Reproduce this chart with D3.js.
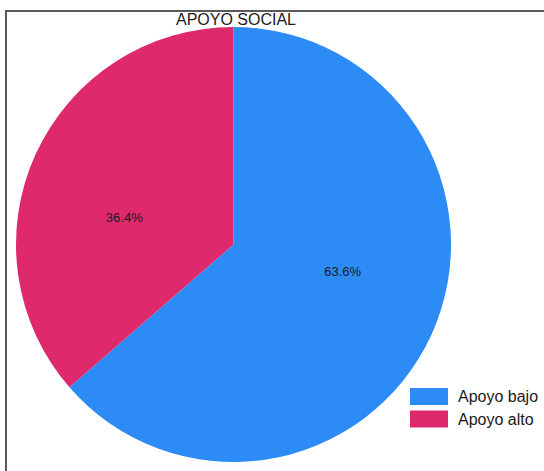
<!DOCTYPE html>
<html>
<head>
<meta charset="utf-8">
<script src="https://cdn.jsdelivr.net/npm/d3@7"></script>
<style>
  html, body { margin: 0; padding: 0; background: #ffffff; }
  svg { display: block; font-family: "Liberation Sans", Arial, sans-serif; }
</style>
</head>
<body>
<svg id="chart" width="544" height="471"></svg>
<script>
const title = "APOYO SOCIAL";
const categories = ["Apoyo bajo", "Apoyo alto"];
const values = [63.6, 36.4];
const colors = ["#2D8BF5", "#DE2A6D"];

const W = 544, H = 471;
const svg = d3.select("#chart");

// frame
svg.append("path")
  .attr("d", `M6,${H + 5} L6,11 L${W + 5},11`)
  .attr("fill", "none")
  .attr("stroke", "#5a5a5a")
  .attr("stroke-width", 2);

const cx = 233.5, cy = 244.5, r = 217.5;
const data = categories.map((c, i) => ({ cat: c, value: values[i] }));
const color = d3.scaleOrdinal().domain(categories).range(colors);

const pie = d3.pie().sort(null).value(d => d.value);
const arc = d3.arc().innerRadius(0).outerRadius(r);
const arcs = pie(data);

const g = svg.append("g").attr("transform", `translate(${cx},${cy})`);
g.selectAll("path.slice")
  .data(arcs)
  .join("path")
  .attr("class", "slice")
  .attr("d", arc)
  .attr("fill", d => color(d.data.cat));

// percentage labels
g.selectAll("text.lbl")
  .data(arcs)
  .join("text")
  .attr("class", "lbl")
  .attr("x", d => { const m = (d.startAngle + d.endAngle) / 2; return Math.sin(m) * 120; })
  .attr("y", d => { const m = (d.startAngle + d.endAngle) / 2; return -Math.cos(m) * 64; })
  .attr("text-anchor", "middle")
  .attr("dominant-baseline", "central")
  .attr("font-size", 13)
  .attr("fill", "#1a1a1a")
  .text(d => d.data.value.toFixed(1) + "%");

// title
svg.append("text")
  .attr("x", 236)
  .attr("y", 25)
  .attr("text-anchor", "middle")
  .attr("font-size", 16)
  .attr("fill", "#1a1a1a")
  .text(title);

// legend
const legend = svg.append("g").attr("transform", "translate(410,388)");
const row = legend.selectAll("g.row")
  .data(categories)
  .join("g")
  .attr("class", "row")
  .attr("transform", (d, i) => `translate(0,${i * 22.5})`);
row.append("rect")
  .attr("width", 38)
  .attr("height", 17)
  .attr("fill", d => color(d));
row.append("text")
  .attr("x", 48)
  .attr("y", 14)
  .attr("font-size", 16)
  .attr("fill", "#1a1a1a")
  .text(d => d);
</script>
</body>
</html>
